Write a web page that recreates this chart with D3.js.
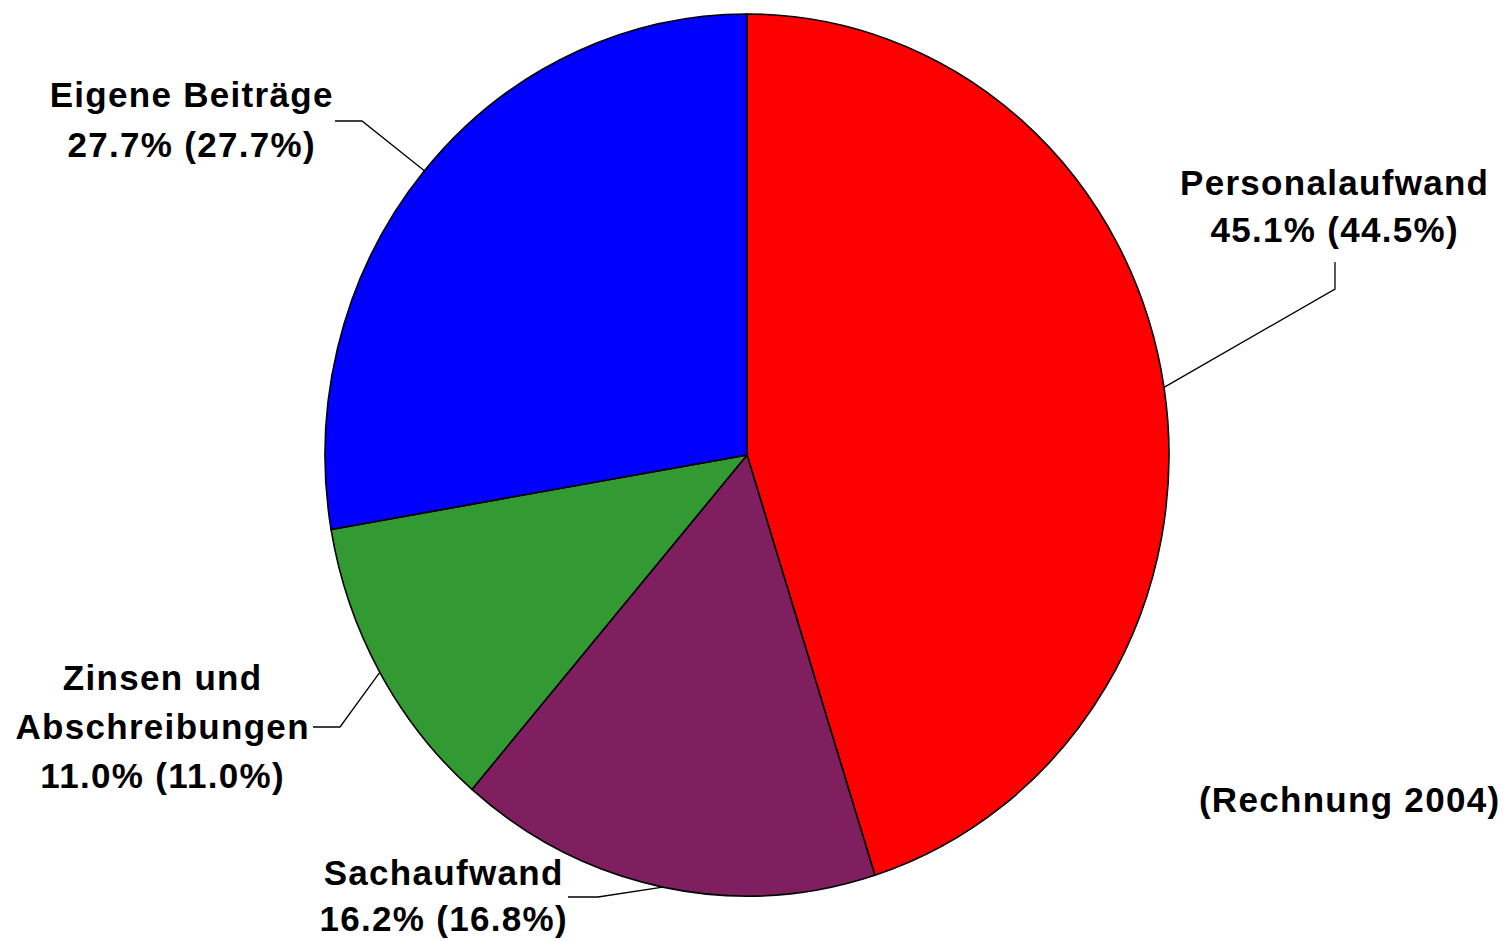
<!DOCTYPE html>
<html><head><meta charset="utf-8">
<script src="https://cdn.jsdelivr.net/npm/d3@7"></script>
<style>html,body{margin:0;padding:0;background:#fff;}svg{display:block;}</style>
</head><body>
<svg id="chart" width="1503" height="941"></svg>
<script>
const categories = ["Personalaufwand", "Sachaufwand", "Zinsen und Abschreibungen", "Eigene Beiträge"];
const values = [45.1, 16.2, 11.0, 27.7];
const previous = [44.5, 16.8, 11.0, 27.7];
const colors = ["#FF0000", "#7F1F5F", "#339933", "#0000FF"];
const labelLines = [["Personalaufwand"], ["Sachaufwand"], ["Zinsen und", "Abschreibungen"], ["Eigene Beiträge"]];
const note = "(Rechnung 2004)";

const svg = d3.select("#chart");
const cx = 747, cy = 455, rx = 422, ry = 441;
const R = 100;

const data = categories.map((c, i) => ({name: c, value: values[i], prev: previous[i], color: colors[i], lines: labelLines[i]}));
const pie = d3.pie().value(d => d.value).sort(null);
const arcs = pie(data);
const arc = d3.arc().innerRadius(0).outerRadius(R);

const g = svg.append("g").attr("transform", `translate(${cx},${cy}) scale(${rx / R},${ry / R})`);
g.selectAll("path").data(arcs).join("path")
  .attr("d", arc)
  .attr("fill", d => d.data.color)
  .attr("stroke", "#000")
  .attr("stroke-width", 1.6)
  .attr("vector-effect", "non-scaling-stroke");

const fmt = v => v.toFixed(1) + "%";
const layout = [
  {x: 1334, y0: 195, dy: 47, leader: [[1335, 262], [1335, 289]]},
  {x: 443, y0: 885, dy: 46, leader: [[568, 897], [598, 897]]},
  {x: 162, y0: 690, dy: 49, leader: [[313, 727], [340, 727]]},
  {x: 191, y0: 107, dy: 50, leader: [[335, 121], [362, 121]]}
];

const font = "'Liberation Sans', Arial, sans-serif";
const fs = 35, ls = 1.3;
arcs.forEach((a, i) => {
  const L = layout[i];
  const lines = a.data.lines.concat([fmt(a.data.value) + " (" + fmt(a.data.prev) + ")"]);
  const t = svg.append("text")
    .attr("font-family", font).attr("font-weight", "bold").attr("font-size", fs)
    .attr("letter-spacing", ls)
    .attr("text-anchor", "middle").attr("fill", "#000");
  lines.forEach((ln, k) => {
    t.append("tspan").attr("x", L.x + ls / 2).attr("y", L.y0 + k * L.dy).text(ln);
  });
  // leader ends on the ellipse edge at the middle of the slice
  const ang = (a.startAngle + a.endAngle) / 2;
  const ex = cx + rx * Math.sin(ang), ey = cy - ry * Math.cos(ang);
  svg.append("path")
    .attr("d", d3.line()([L.leader[0], L.leader[1], [ex, ey]]))
    .attr("fill", "none").attr("stroke", "#000").attr("stroke-width", 1.3);
});

svg.append("text")
  .attr("x", 1349 + ls / 2).attr("y", 812)
  .attr("font-family", font).attr("font-weight", "bold").attr("font-size", fs)
  .attr("letter-spacing", ls)
  .attr("text-anchor", "middle").attr("fill", "#000")
  .text(note);
</script>
</body></html>
